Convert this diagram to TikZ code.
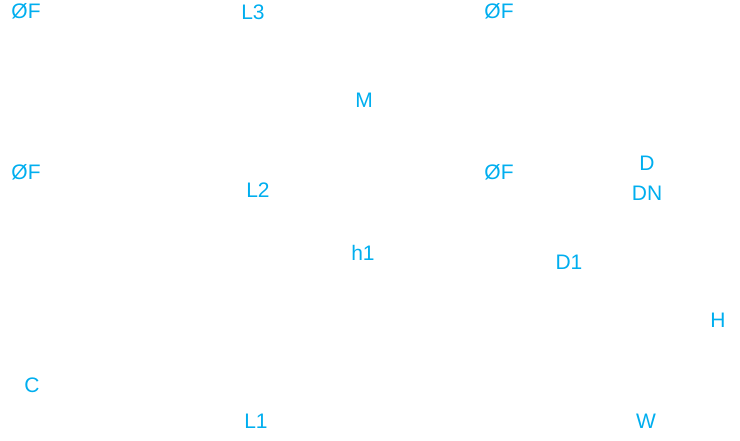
\documentclass[tikz,border=0pt]{standalone}
\usepackage{fontspec}
\setmainfont{Liberation Sans}
\definecolor{lbl}{HTML}{00AEEF}
\begin{document}
\begin{tikzpicture}[x=1pt,y=-1pt,
  lab/.style={text=lbl,inner sep=0pt,font=\fontsize{21}{25}\selectfont}]
\useasboundingbox (0,0) rectangle (740,441);
\node[lab] (f1) at (26,11) {ØF};
\node[lab] (l3) at (253,12) {L3};
\node[lab] (m) at (364,100) {M};
\node[lab] (f2) at (499,11) {ØF};
\node[lab] (f3) at (26,172) {ØF};
\node[lab] (l2) at (258,190) {L2};
\node[lab] (f4) at (499,172) {ØF};
\node[lab] (d) at (647,163) {D};
\node[lab] (dn) at (647,193) {DN};
\node[lab] (h1) at (363,253) {h1};
\node[lab] (d1) at (569,262) {D1};
\node[lab] (h) at (718,320) {H};
\node[lab] (c) at (32,385) {C};
\node[lab] (l1) at (256,421) {L1};
\node[lab] (w) at (646,421) {W};
\end{tikzpicture}
\end{document}
